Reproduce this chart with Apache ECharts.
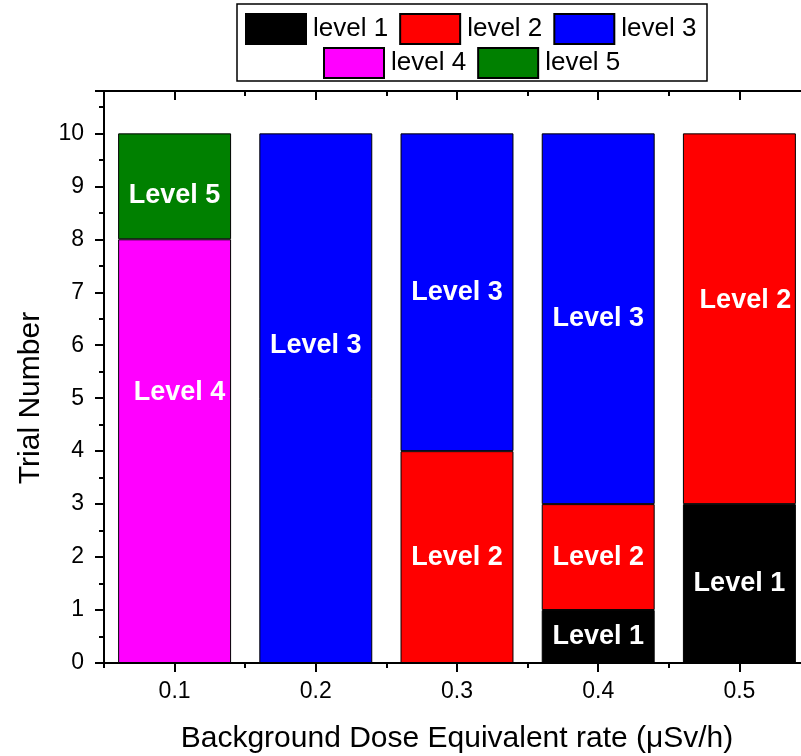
<!DOCTYPE html>
<html>
<head>
<meta charset="utf-8">
<script src="https://cdn.jsdelivr.net/npm/echarts@6/dist/echarts.min.js"></script>
<style>
html,body{margin:0;padding:0;background:#fff;}
#chart{width:801px;height:756px;}
</style>
</head>
<body>
<div id="chart"></div>
<script>
// ---- data ----
const categories = ['0.1', '0.2', '0.3', '0.4', '0.5'];
const level1 = [0, 0, 0, 1, 3];
const level2 = [0, 0, 4, 2, 7];
const level3 = [0, 10, 6, 7, 0];
const level4 = [8, 0, 0, 0, 0];
const level5 = [2, 0, 0, 0, 0];
const seriesNames = ['level 1', 'level 2', 'level 3', 'level 4', 'level 5'];
const barLabels = ['Level 1', 'Level 2', 'Level 3', 'Level 4', 'Level 5'];
const yTicks = [0, 1, 2, 3, 4, 5, 6, 7, 8, 9, 10];

// ---- styles ----
const colors = ['#000000', '#ff0000', '#0000ff', '#ff00ff', '#008000'];
// label offsets [series-category] in px (styling of in-bar text)
const labelOffsets = {
  '3-0': [5, -59],
  '4-0': [0, 9],
  '2-1': [0, -53],
  '1-4': [6, -18]
};
const FONT = '"Liberation Sans", Arial, sans-serif';

const allSeries = [level1, level2, level3, level4, level5];

const chart = echarts.init(document.getElementById('chart'), null, {renderer: 'canvas'});

const series = allSeries.map((vals, si) => ({
  name: seriesNames[si],
  type: 'bar',
  stack: 'total',
  xAxisIndex: 0,
  yAxisIndex: 0,
  barWidth: '80%',
  itemStyle: {color: colors[si], borderColor: '#000', borderWidth: 1},
  emphasis: {disabled: true},
  data: vals.map((v, ci) => {
    if (!v) return '-';
    const off = labelOffsets[si + '-' + ci] || [0, 0];
    return {
      value: v,
      label: {
        show: true,
        position: 'inside',
        offset: off,
        formatter: barLabels[si],
        color: '#fff',
        fontWeight: 'bold',
        fontSize: 27,
        fontFamily: FONT
      }
    };
  })
}));

const axisLine = {show: true, lineStyle: {color: '#000', width: 2}};
const legendCommon = {
  icon: 'rect',
  itemWidth: 60, itemHeight: 30, itemGap: 11,
  textStyle: {fontSize: 26, fontFamily: FONT, color: '#000', padding: [0, 0, 0, 2]},
  selectedMode: false
};

const option = {
  animation: false,
  backgroundColor: '#fff',
  grid: {left: 104, width: 706, top: 91, height: 572, containLabel: false, outerBoundsMode: 'none'},
  legend: [
    Object.assign({data: seriesNames.slice(0, 3), left: 240, top: 8}, legendCommon),
    Object.assign({data: seriesNames.slice(3), left: 318, top: 42}, legendCommon)
  ],
  graphic: [{
    type: 'rect',
    shape: {x: 237, y: 4, width: 470, height: 77},
    style: {fill: 'none', stroke: '#000', lineWidth: 1.5},
    z: 100
  }],
  xAxis: [
    {
      type: 'category', position: 'bottom', data: categories,
      axisLine: axisLine,
      axisTick: {show: true, alignWithLabel: true, inside: false, length: 9, lineStyle: {width: 2, color: '#000'}},
      axisLabel: {fontSize: 23, fontFamily: FONT, color: '#000', margin: 17},
      name: 'Background Dose Equivalent rate (\u03bcSv/h)',
      nameLocation: 'middle', nameGap: 61,
      nameTextStyle: {fontSize: 30, fontFamily: FONT, color: '#000'},
      splitLine: {show: false}
    },
    {
      type: 'category', position: 'bottom', data: categories,
      axisLine: {show: false},
      axisTick: {show: true, alignWithLabel: false, inside: false, length: 5, lineStyle: {width: 2, color: '#000'}},
      axisLabel: {show: false}, splitLine: {show: false}
    },
    {
      type: 'category', position: 'top', data: categories,
      axisLine: axisLine,
      axisTick: {show: true, alignWithLabel: true, inside: true, length: 9, lineStyle: {width: 2, color: '#000'}},
      axisLabel: {show: false}, splitLine: {show: false}
    },
    {
      type: 'category', position: 'top', data: categories,
      axisLine: {show: false},
      axisTick: {show: true, alignWithLabel: false, inside: true, length: 5, lineStyle: {width: 2, color: '#000'}},
      axisLabel: {show: false}, splitLine: {show: false}
    }
  ],
  yAxis: [
    {
      type: 'value', position: 'left', min: 0, max: 10.8, interval: 1,
      axisLine: axisLine,
      axisTick: {show: true, inside: false, length: 9, lineStyle: {width: 2, color: '#000'}},
      minorTick: {show: true, splitNumber: 2, length: 5, lineStyle: {width: 2, color: '#000'}},
      axisLabel: {
        fontSize: 23, fontFamily: FONT, color: '#000', margin: 20,
        formatter: v => (yTicks.indexOf(v) >= 0 ? String(v) : '')
      },
      splitLine: {show: false},
      name: 'Trial Number', nameLocation: 'middle', nameGap: 58,
      nameTextStyle: {fontSize: 30, fontFamily: FONT, color: '#000', padding: [0, 42, 0, 0]}
    },
    {
      type: 'value', position: 'right', min: 0, max: 10.8, interval: 1,
      axisLine: axisLine,
      axisTick: {show: true, inside: true, length: 9, lineStyle: {width: 2, color: '#000'}},
      minorTick: {show: true, splitNumber: 2, length: 5, lineStyle: {width: 2, color: '#000'}},
      axisLabel: {show: false},
      splitLine: {show: false}
    }
  ],
  series: series
};
chart.setOption(option);
</script>
</body>
</html>
